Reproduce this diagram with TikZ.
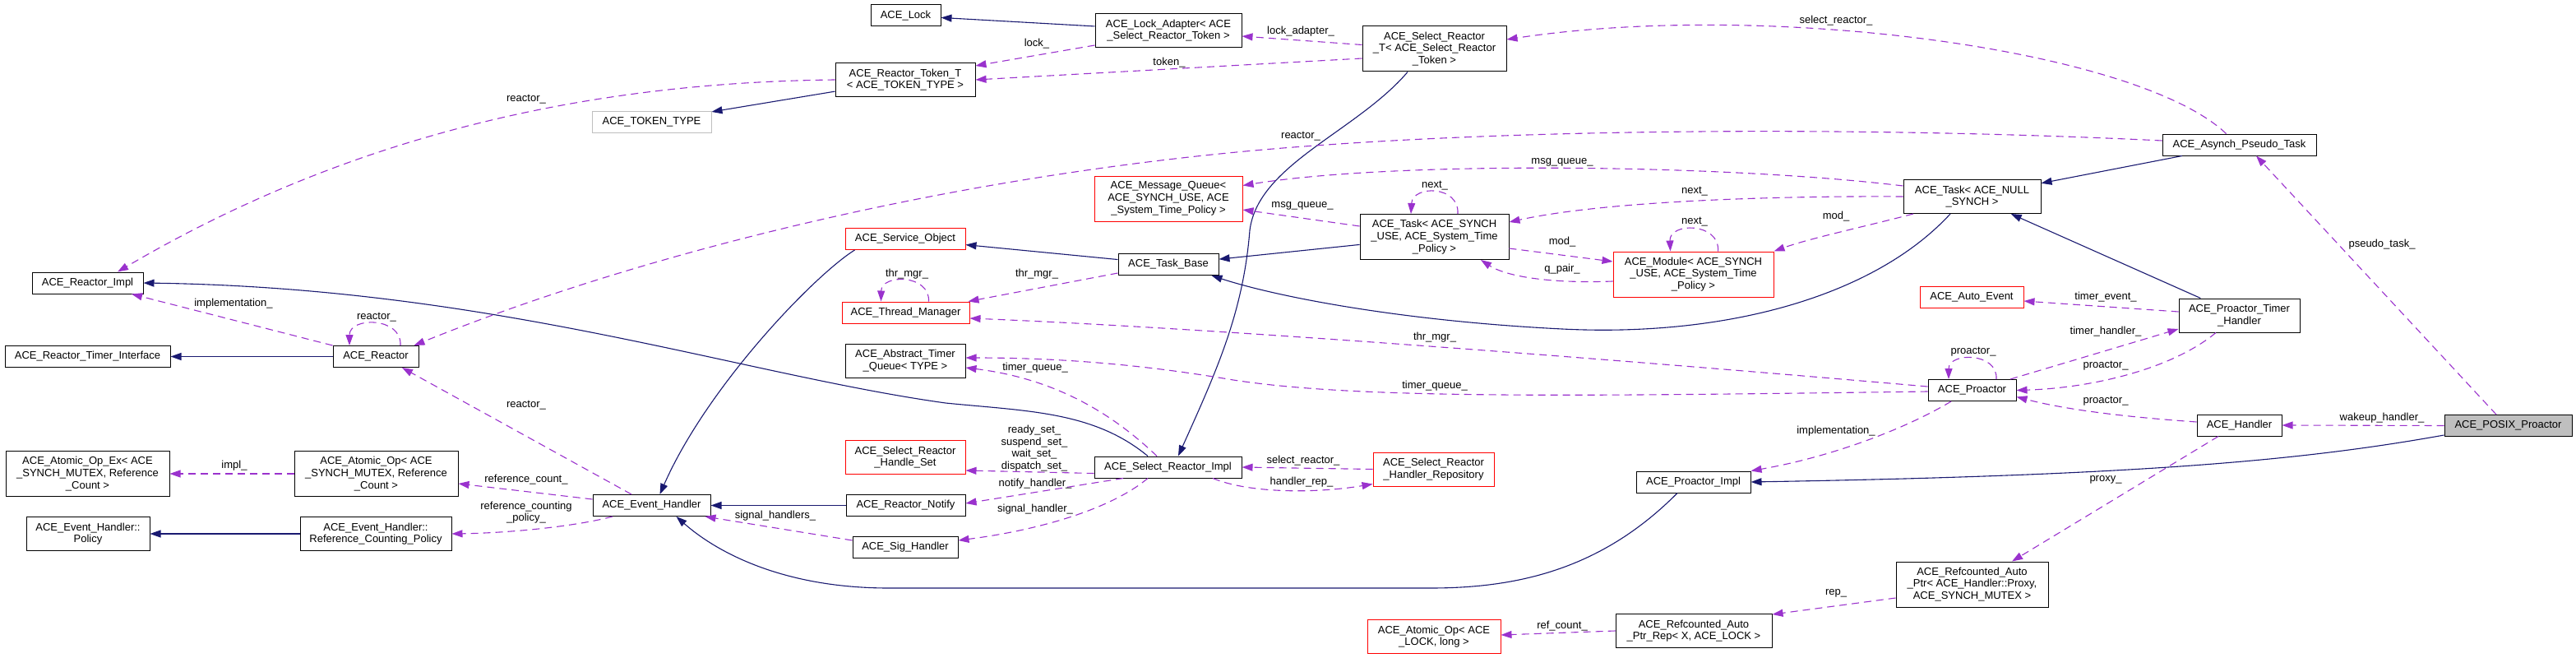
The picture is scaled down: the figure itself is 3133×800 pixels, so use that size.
\documentclass[tikz,border=0pt]{standalone}
\usepackage{fontspec}
\setmainfont{Liberation Sans}
\usetikzlibrary{arrows.meta}

\definecolor{inhblue}{HTML}{191970}
\definecolor{usepurple}{HTML}{9A32CD}
\definecolor{boxred}{HTML}{FF0000}
\definecolor{boxgray}{HTML}{BFBFBF}
\newcommand{\dxfont}{\fontsize{13}{14.7}\selectfont}

\begin{document}
\begin{tikzpicture}[
  x=1pt, y=-1pt,
  cls/.style={draw=black, line width=1pt, fill=white, rectangle, align=center, inner sep=2pt, font=\dxfont, minimum height=26pt},
  cls2/.style={cls, minimum height=41pt},
  cls3/.style={cls, minimum height=55pt},
  redbox/.style={draw=boxred},
  inh/.style={draw=inhblue, line width=1.1pt, -{Triangle[length=13pt, width=9pt]}},
  usage/.style={draw=usepurple, line width=1.1pt, dash pattern=on 9pt off 6pt, -{Triangle[length=13pt, width=9pt]}},
  elabel/.style={font=\dxfont, inner sep=1pt, align=center}
]
\useasboundingbox (0,0) rectangle (3133,800);

% Nodes (reactor side)
\node[cls, minimum width=135pt] (reactorImpl) at (106.5,344) {ACE\_Reactor\_Impl};
\node[cls, draw=boxgray, minimum width=145pt] (tokenType) at (792.5,148) {ACE\_TOKEN\_TYPE};
\node[cls, minimum width=201pt] (timerIface) at (106.5,433.5) {ACE\_Reactor\_Timer\_Interface};
\node[cls, minimum width=104pt] (reactor) at (457,433.5) {ACE\_Reactor};
\node[cls3, minimum width=199pt] (atomicOpEx) at (106.5,576) {ACE\_Atomic\_Op\_Ex< ACE\\\_SYNCH\_MUTEX, Reference\\\_Count >};
\node[cls3, minimum width=199pt] (atomicOp) at (457.5,576) {ACE\_Atomic\_Op< ACE\\\_SYNCH\_MUTEX, Reference\\\_Count >};
\node[cls, minimum width=143pt] (eventHandler) at (792.5,614.5) {ACE\_Event\_Handler};
\node[cls2, minimum width=150pt] (ehPolicy) at (107,649) {ACE\_Event\_Handler::\\Policy};
\node[cls2, minimum width=184pt] (refCountPolicy) at (457,649) {ACE\_Event\_Handler::\\Reference\_Counting\_Policy};

% Nodes (middle)
\node[cls, minimum width=85pt] (lock) at (1101.5,19) {ACE\_Lock};
\node[cls2, minimum width=178pt] (lockAdapter) at (1421,37) {ACE\_Lock\_Adapter< ACE\\\_Select\_Reactor\_Token >};
\node[cls2, minimum width=170pt] (tokenT) at (1101,97) {ACE\_Reactor\_Token\_T\\< ACE\_TOKEN\_TYPE >};
\node[cls3, redbox, minimum width=180pt] (msgQueue) at (1421,241.5) {ACE\_Message\_Queue<\\ACE\_SYNCH\_USE, ACE\\\_System\_Time\_Policy >};
\node[cls, redbox, minimum width=146pt] (serviceObj) at (1101,290.5) {ACE\_Service\_Object};
\node[cls, minimum width=122pt] (taskBase) at (1421,321.5) {ACE\_Task\_Base};
\node[cls, redbox, minimum width=155pt] (threadMgr) at (1101.5,380) {ACE\_Thread\_Manager};
\node[cls2, minimum width=146pt] (timerQueue) at (1101,438.5) {ACE\_Abstract\_Timer\\\_Queue< TYPE >};
\node[cls2, redbox, minimum width=146pt] (handleSet) at (1101,556) {ACE\_Select\_Reactor\\\_Handle\_Set};
\node[cls, minimum width=179pt] (selectImpl) at (1420.5,568) {ACE\_Select\_Reactor\_Impl};
\node[cls, minimum width=145pt] (reactorNotify) at (1101.5,614.5) {ACE\_Reactor\_Notify};
\node[cls, minimum width=128pt] (sigHandler) at (1101,665.5) {ACE\_Sig\_Handler};
\node[cls3, minimum width=175pt] (selectT) at (1744.5,59.5) {ACE\_Select\_Reactor\\\_T< ACE\_Select\_Reactor\\\_Token >};
\node[cls3, minimum width=181pt] (taskSynch) at (1744.5,288) {ACE\_Task< ACE\_SYNCH\\\_USE, ACE\_System\_Time\\\_Policy >};
\node[cls2, redbox, minimum width=147pt] (handlerRepo) at (1743.5,570.5) {ACE\_Select\_Reactor\\\_Handler\_Repository};
\node[cls2, redbox, minimum width=162pt] (atomicOpLock) at (1744,774) {ACE\_Atomic\_Op< ACE\\\_LOCK, long >};

% Nodes (proactor side)
\node[cls3, redbox, minimum width=195pt] (module) at (2059.5,333.5) {ACE\_Module< ACE\_SYNCH\\\_USE, ACE\_System\_Time\\\_Policy >};
\node[cls, minimum width=139pt] (proactorImpl) at (2059.5,586) {ACE\_Proactor\_Impl};
\node[cls2, minimum width=190pt] (refAutoPtrRep) at (2060,767) {ACE\_Refcounted\_Auto\\\_Ptr\_Rep< X, ACE\_LOCK >};
\node[cls2, minimum width=167pt] (taskNull) at (2398.5,239) {ACE\_Task< ACE\_NULL\\\_SYNCH >};
\node[cls, redbox, minimum width=126pt] (autoEvent) at (2398,361.5) {ACE\_Auto\_Event};
\node[cls, minimum width=107pt] (proactor) at (2398.5,474.5) {ACE\_Proactor};
\node[cls3, minimum width=185pt] (refAutoPtr) at (2398.5,710.5) {ACE\_Refcounted\_Auto\\\_Ptr< ACE\_Handler::Proxy,\\ACE\_SYNCH\_MUTEX >};
\node[cls, minimum width=187pt] (pseudoTask) at (2723.5,176) {ACE\_Asynch\_Pseudo\_Task};
\node[cls2, minimum width=147pt] (timerHandler) at (2723.5,383.5) {ACE\_Proactor\_Timer\\\_Handler};
\node[cls, minimum width=103pt] (handler) at (2723.5,517) {ACE\_Handler};
\node[cls, fill=boxgray, minimum width=155pt] (posix) at (3050.5,517.5) {ACE\_POSIX\_Proactor};

% Arrows - inheritance
\draw[inh] (lockAdapter) -- (lock);
\draw[inh] (tokenT) -- (tokenType);
\draw[inh] (reactor) -- (timerIface);
\draw[inh] ([xshift=-24.5pt]selectImpl.north) .. controls (1330,500) and (1250,500) .. (1150,490)
  .. controls (900,455) and (600,350) .. (reactorImpl.east);
\draw[inh] ([xshift=-32.5pt]selectT.south) .. controls (1650,160) and (1530,200) .. (1520,280)
  .. controls (1512,380) and (1480,450) .. ([xshift=12.5pt]selectImpl.north);
\draw[inh] (taskBase) -- (serviceObj);
\draw[inh] ([xshift=12pt]serviceObj.south west) .. controls (990,335) and (860,470) .. ([xshift=10pt]eventHandler.north);
\draw[inh] (taskSynch) -- (taskBase);
\draw[inh] ([xshift=-26.5pt]taskNull.south) .. controls (2280,360) and (2100,410) .. (1900,400)
  .. controls (1700,390) and (1550,360) .. ([xshift=-9pt]taskBase.south east);
\draw[inh] (pseudoTask) -- (taskNull);
\draw[inh] (timerHandler) -- (taskNull);
\draw[inh] (reactorNotify) -- (eventHandler);
\draw[inh] ([xshift=-19.5pt]proactorImpl.south) .. controls (1950,690) and (1850,715) .. (1740,715) -- (1081,715)
  .. controls (950,715) and (870,670) .. ([xshift=30pt]eventHandler.south);
\draw[inh] ([yshift=2pt]posix.south west) .. controls (2800,560) and (2600,578) .. (proactorImpl.east);
\draw[inh] (refCountPolicy) -- (ehPolicy);

% Arrows - members (reactor side)
\draw[usage] (tokenT.west) .. controls (750,100) and (450,150) .. ([xshift=36.5pt]reactorImpl.north)
  node[elabel] at (640,121) {reactor\_};
\draw[usage] ([yshift=3pt]lockAdapter.south west) -- ([yshift=-4pt]tokenT.north east) node[elabel] at (1261,53) {lock\_};
\draw[usage] ([yshift=5pt]selectT.west) -- ([yshift=-7pt]lockAdapter.east) node[elabel] at (1582,38) {lock\_adapter\_};
\draw[usage] ([yshift=-11.5pt]selectT.west) -- (tokenT.east) node[elabel] at (1422,76) {token\_};
\draw[usage] ([xshift=-16pt]pseudoTask.north) .. controls (2600,60) and (2150,0) .. ([yshift=11.5pt]selectT.east)
  node[elabel] at (2233,25) {select\_reactor\_};
\draw[usage] ([yshift=5pt]pseudoTask.west) .. controls (2300,155) and (1900,155) .. (1600,177)
  .. controls (1200,205) and (800,300) .. ([xshift=-6pt]reactor.north east) node[elabel] at (1582,166) {reactor\_};
\draw[usage] ([xshift=-24.5pt]eventHandler.north) -- ([xshift=32pt]reactor.south) node[elabel] at (640,493) {reactor\_};
\draw[usage] ([xshift=30pt]reactor.north) .. controls (489,385) and (425,385) .. ([xshift=-32pt]reactor.north)
  node[elabel] at (458,386) {reactor\_};
\draw[usage] (reactor.north west) -- ([xshift=53.5pt]reactorImpl.south) node[elabel] at (284,369) {implementation\_};
\draw[usage] ([yshift=7.5pt]eventHandler.west) -- ([yshift=-12pt]atomicOp.east) node[elabel] at (640,583) {reference\_count\_};
\draw[usage] ([xshift=-47.5pt]eventHandler.south) .. controls (700,640) and (620,648) .. (refCountPolicy.east)
  node[elabel] at (640,623) {reference\_counting\\\_policy\_};
\draw[usage] (atomicOp.west) -- (atomicOpEx.east) node[elabel] at (285,566) {impl\_};

% Arrows - members (tasks and select reactor)
\draw[usage] ([yshift=13pt]taskNull.west) .. controls (2100,200) and (1700,195) .. ([yshift=16pt]msgQueue.east)
  node[elabel] at (1900,197) {msg\_queue\_};
\draw[usage] ([yshift=13pt]taskSynch.west) -- ([yshift=-13.5pt]msgQueue.east) node[elabel] at (1584,250) {msg\_queue\_};
\draw[usage] (taskNull.west) .. controls (2150,238) and (1950,245) .. ([yshift=18pt]taskSynch.east)
  node[elabel] at (2061,233) {next\_};
\draw[usage] ([xshift=28.5pt]taskSynch.north) .. controls (1775,225) and (1718,225) .. ([xshift=-28.5pt]taskSynch.north)
  node[elabel] at (1745,226) {next\_};
\draw[usage] ([xshift=-71.5pt]taskNull.south) .. controls (2270,275) and (2200,290) .. (module.north east)
  node[elabel] at (2233,263) {mod\_};
\draw[usage] ([yshift=-14pt]taskSynch.east) -- ([yshift=15.5pt]module.west) node[elabel] at (1900,294) {mod\_};
\draw[usage] ([yshift=-8.5pt]module.west) .. controls (1880,345) and (1830,335) .. ([xshift=56.5pt]taskSynch.south)
  node[elabel] at (1900,327) {q\_pair\_};
\draw[usage] ([xshift=30pt]module.north) .. controls (2092,270) and (2030,270) .. ([xshift=-28pt]module.north)
  node[elabel] at (2061,270) {next\_};
\draw[usage] ([yshift=-10.5pt]taskBase.west) -- ([xshift=-2pt]threadMgr.north east) node[elabel] at (1261,333) {thr\_mgr\_};
\draw[usage] ([xshift=28pt]threadMgr.north) .. controls (1131,333) and (1072,333) .. ([xshift=-30pt]threadMgr.north)
  node[elabel] at (1103,333) {thr\_mgr\_};
\draw[usage] ([xshift=-13.5pt]selectImpl.north) .. controls (1350,500) and (1280,460) .. ([yshift=-8.5pt]timerQueue.east)
  node[elabel] at (1259,447) {timer\_queue\_};
\draw[usage] ([yshift=-7.5pt]selectImpl.west) -- ([yshift=-16pt]handleSet.east)
  node[elabel] at (1258,545) {ready\_set\_\\suspend\_set\_\\wait\_set\_\\dispatch\_set\_};
\draw[usage] ([xshift=-54.5pt]selectImpl.south) -- ([yshift=2.5pt]reactorNotify.east) node[elabel] at (1259,588) {notify\_handler\_};
\draw[usage] ([xshift=-24.5pt]selectImpl.south) .. controls (1350,620) and (1260,645) .. ([yshift=8.5pt]sigHandler.east)
  node[elabel] at (1259,619) {signal\_handler\_};
\draw[usage] ([yshift=8.5pt]sigHandler.west) -- ([xshift=-7pt]eventHandler.south east) node[elabel] at (943,627) {signal\_handlers\_};
\draw[usage] (handlerRepo.west) -- (selectImpl.east) node[elabel] at (1585,560) {select\_reactor\_};
\draw[usage] ([xshift=54.5pt]selectImpl.south) .. controls (1520,600) and (1600,600) .. ([yshift=3pt]handlerRepo.south west)
  node[elabel] at (1583,586) {handler\_rep\_};

% Arrows - members (proactor side)
\draw[usage] ([yshift=4.5pt]proactor.west) .. controls (2000,440) and (1500,400) .. ([yshift=-7pt]threadMgr.east)
  node[elabel] at (1745,410) {thr\_mgr\_};
\draw[usage] ([yshift=-1.5pt]proactor.west) .. controls (1900,482) and (1650,485) .. (1500,462)
  .. controls (1400,445) and (1300,435) .. ([yshift=3.5pt]timerQueue.east) node[elabel] at (1745,469) {timer\_queue\_};
\draw[usage] ([xshift=29.5pt]proactor.north) .. controls (2430,428) and (2370,428) .. ([xshift=-28.5pt]proactor.north)
  node[elabel] at (2400,428) {proactor\_};
\draw[usage] ([xshift=46.5pt]proactor.north) -- ([yshift=-16.5pt]timerHandler.west) node[elabel] at (2561,403) {timer\_handler\_};
\draw[usage] ([xshift=-28.5pt]timerHandler.south) .. controls (2640,450) and (2540,472) .. (proactor.east)
  node[elabel] at (2561,445) {proactor\_};
\draw[usage] ([yshift=4pt]handler.west) .. controls (2600,508) and (2520,500) .. ([yshift=-8pt]proactor.east)
  node[elabel] at (2561,488) {proactor\_};
\draw[usage] ([yshift=4.5pt]timerHandler.west) -- ([yshift=-4.5pt]autoEvent.east) node[elabel] at (2561,361) {timer\_event\_};
\draw[usage] ([xshift=-25.5pt]proactor.south) .. controls (2320,520) and (2230,555) .. (proactorImpl.north east)
  node[elabel] at (2233,524) {implementation\_};
\draw[usage] (posix.west) -- (handler.east) node[elabel] at (2897,508) {wakeup\_handler\_};
\draw[usage] ([xshift=-14.5pt]posix.north) -- ([xshift=20.5pt]pseudoTask.south) node[elabel] at (2897,297) {pseudo\_task\_};
\draw[usage] ([xshift=-25.5pt]handler.south) -- ([xshift=48.5pt]refAutoPtr.north) node[elabel] at (2561,583) {proxy\_};
\draw[usage] ([yshift=-16.5pt]refAutoPtr.west) -- ([yshift=-1pt]refAutoPtrRep.north east) node[elabel] at (2233,721) {rep\_};
\draw[usage] (refAutoPtrRep.west) -- ([yshift=2pt]atomicOpLock.east) node[elabel] at (1900,761) {ref\_count\_};

\end{tikzpicture}
\end{document}
